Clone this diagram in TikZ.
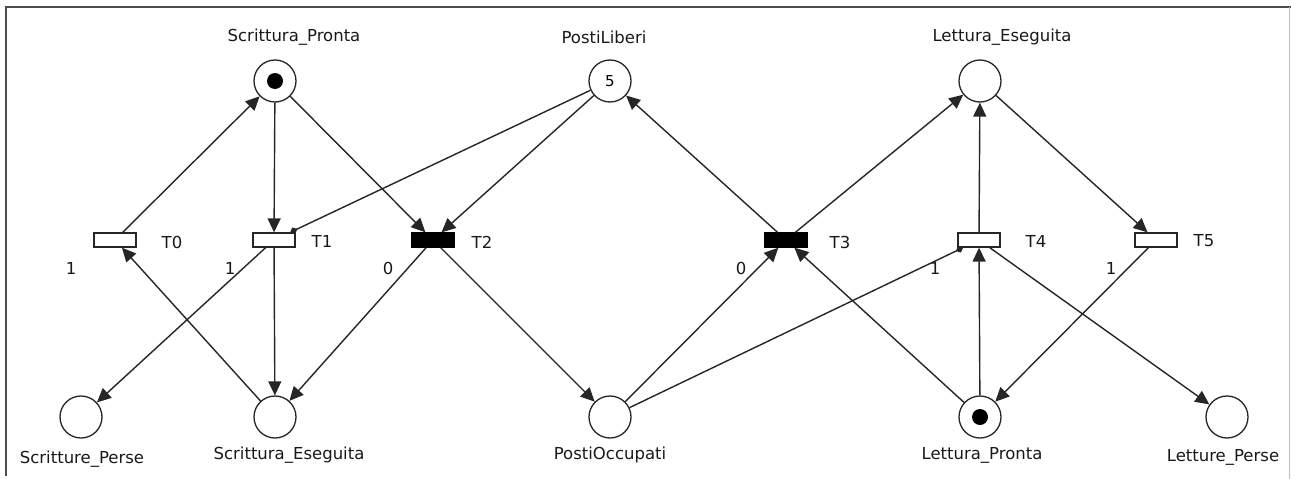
\documentclass[tikz,border=0pt]{standalone}
\usepackage{fontspec}
\setmainfont{DejaVu Sans}
\usetikzlibrary{arrows.meta}
\begin{document}
\begin{tikzpicture}[x=1pt,y=-1pt,
  place/.style={circle,draw=black!85,line width=1.3pt,minimum size=42pt,inner sep=0pt,fill=white,
                font=\fontsize{15}{17}\selectfont},
  trans/.style={rectangle,draw=black!85,line width=1.3pt,minimum width=42pt,minimum height=14pt,
                inner sep=0pt,fill=white},
  firing/.style={trans,fill=black,draw=black},
  arc/.style={draw=black!85,line width=1.4pt,-{Triangle[length=14pt,width=13pt]}},
  inhib/.style={draw=black!85,line width=1.4pt,-{Diamond[length=8pt,width=7pt]}},
  lbl/.style={font=\fontsize{16.5}{18}\selectfont,text=black!90,inner sep=0pt},
  token/.style={circle,fill=black,minimum size=16pt,inner sep=0pt}]

\useasboundingbox (0,0) rectangle (1291,479);
\fill[white] (0,0) rectangle (1291,479);

% window frame
\draw[black!70,line width=1.5pt] (6,476) -- (6,7) -- (1291,7);
\draw[black!25,line width=1pt] (1289,7) -- (1289,479);

% places
\node[place] (SP) at (275,81) {};
\node[place] (PL) at (610,81) {5};
\node[place] (LE) at (980,81) {};
\node[place] (SPe) at (81,417) {};
\node[place] (SE) at (275,417) {};
\node[place] (PO) at (610,417) {};
\node[place] (LP) at (980,417) {};
\node[place] (LPe) at (1227,417) {};

% tokens
\node[token] (tokSP) at (SP) {};
\node[token] (tokLP) at (LP) {};

% transitions
\node[trans]  (T0) at (115,240) {};
\node[trans]  (T1) at (274,240) {};
\node[firing] (T2) at (433,240) {};
\node[firing] (T3) at (786,240) {};
\node[trans]  (T4) at (979,240) {};
\node[trans]  (T5) at (1156,240) {};

% place names
\node[lbl] (lSP)  at (294,37)  {Scrittura\_Pronta};
\node[lbl] (lPL)  at (604,37)  {PostiLiberi};
\node[lbl] (lLE)  at (1002,37) {Lettura\_Eseguita};
\node[lbl] (lSPe) at (82,459)  {Scritture\_Perse};
\node[lbl] (lSE)  at (289,455) {Scrittura\_Eseguita};
\node[lbl] (lPO)  at (610,455) {PostiOccupati};
\node[lbl] (lLP)  at (982,455) {Lettura\_Pronta};
\node[lbl] (lLPe) at (1223,457) {Letture\_Perse};

% transition names
\node[lbl] (lT0) at (172,242) {T0};
\node[lbl] (lT1) at (322,241) {T1};
\node[lbl] (lT2) at (482,242) {T2};
\node[lbl] (lT3) at (840,242) {T3};
\node[lbl] (lT4) at (1036,241) {T4};
\node[lbl] (lT5) at (1204,241) {T5};

% transition values
\node[lbl] (vT0) at (71,268)   {1};
\node[lbl] (vT1) at (230,268)  {1};
\node[lbl] (vT2) at (388,268)  {0};
\node[lbl] (vT3) at (741,268)  {0};
\node[lbl] (vT4) at (935,268)  {1};
\node[lbl] (vT5) at (1111,268) {1};

% arcs, writer side
\draw[arc] (T0) -- (SP);
\draw[arc] (SP) -- (T1);
\draw[arc] (SP) -- (T2);
\draw[inhib] (PL) -- (T1);
\draw[arc] (PL) -- (T2);
\draw[arc] (T1) -- (SPe);
\draw[arc] (T1) -- (SE);
\draw[arc] (SE) -- (T0);
\draw[arc] (T2) -- (SE);
\draw[arc] (T2) -- (PO);

% arcs, reader side
\draw[arc] (T3) -- (PL);
\draw[arc] (T3) -- (LE);
\draw[arc] (T4) -- (LE);
\draw[arc] (LE) -- (T5);
\draw[arc] (PO) -- (T3);
\draw[inhib] (PO) -- (T4);
\draw[arc] (LP) -- (T3);
\draw[arc] (LP) -- (T4);
\draw[arc] (T5) -- (LP);
\draw[arc] (T4) -- (LPe);

\end{tikzpicture}
\end{document}
